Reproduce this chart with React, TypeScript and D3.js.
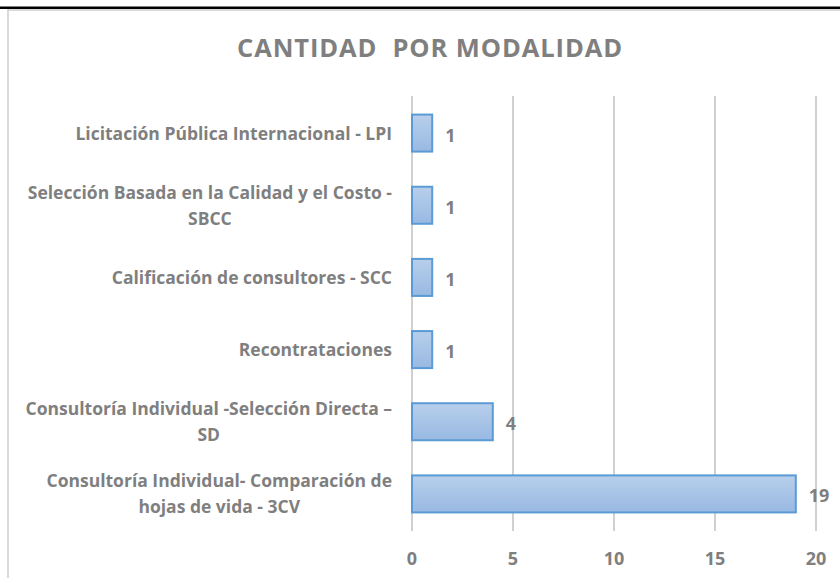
import React, { useEffect, useRef } from "react";
import * as d3 from "d3";

const title = "CANTIDAD\u00A0\u00A0POR MODALIDAD";
const categories = [
  "Licitación Pública Internacional - LPI",
  "Selección Basada en la Calidad y el Costo -\nSBCC",
  "Calificación de consultores - SCC",
  "Recontrataciones",
  "Consultoría Individual -Selección Directa –\nSD",
  "Consultoría Individual- Comparación de\nhojas de vida - 3CV",
];
const values = [1, 1, 1, 1, 4, 19];
const xTicks = [0, 5, 10, 15, 20];

const W = 840;
const H = 578;
const FONT = "'Open Sans', Lato, sans-serif";
const GRAY = "#7f7f7f";

export default function App() {
  const ref = useRef<SVGSVGElement>(null);

  useEffect(() => {
    const svg = d3.select(ref.current);
    svg.selectAll("*").remove();

    const x = d3.scaleLinear().domain([0, 20]).range([412, 816]);
    const y = d3
      .scaleBand<string>()
      .domain(categories)
      .range([97, 530])
      .paddingInner(0.487)
      .paddingOuter(0.2435);

    const defs = svg.append("defs");
    const grad = defs
      .append("linearGradient")
      .attr("id", "barGrad")
      .attr("x1", 0)
      .attr("y1", 0)
      .attr("x2", 0)
      .attr("y2", 1);
    grad.append("stop").attr("offset", "0%").attr("stop-color", "#b8cfeb");
    grad.append("stop").attr("offset", "100%").attr("stop-color", "#98b9e3");

    // frame
    svg.append("rect").attr("x", 0).attr("y", 6.5).attr("width", W).attr("height", 2.5).attr("fill", "#000");
    svg.append("rect").attr("x", 7).attr("y", 9).attr("width", W - 7).attr("height", 2).attr("fill", "#d9d9d9");
    svg.append("rect").attr("x", 7).attr("y", 9).attr("width", 2).attr("height", H - 9).attr("fill", "#d9d9d9");

    // title
    const titleEl = svg
      .append("text")
      .attr("x", 430)
      .attr("y", 56.5)
      .attr("text-anchor", "middle")
      .attr("font-family", FONT)
      .attr("font-weight", 700)
      .attr("font-size", 25.5)
      .attr("fill", GRAY)
      .text(title);
    const tw = (titleEl.node() as SVGTextElement).getComputedTextLength();
    const targetW = 386;
    if (tw < targetW) {
      titleEl.attr("letter-spacing", (targetW - tw) / title.length);
    }

    // gridlines
    svg
      .append("g")
      .selectAll("line")
      .data(xTicks)
      .join("line")
      .attr("x1", (d) => x(d))
      .attr("x2", (d) => x(d))
      .attr("y1", 96)
      .attr("y2", 531)
      .attr("stroke", "#d0d0d0")
      .attr("stroke-width", 2);

    // tick labels
    svg
      .append("g")
      .selectAll("text")
      .data(xTicks)
      .join("text")
      .attr("x", (d) => x(d))
      .attr("y", 565)
      .attr("text-anchor", "middle")
      .attr("font-family", FONT)
      .attr("font-weight", 700)
      .attr("font-size", 18)
      .attr("fill", GRAY)
      .text((d) => String(d));

    // bars
    svg
      .append("g")
      .selectAll("rect")
      .data(categories)
      .join("rect")
      .attr("x", x(0))
      .attr("y", (d) => y(d)!)
      .attr("width", (d, i) => x(values[i]) - x(0))
      .attr("height", y.bandwidth())
      .attr("fill", "url(#barGrad)")
      .attr("stroke", "#5b9bd5")
      .attr("stroke-width", 2);

    // value labels
    svg
      .append("g")
      .selectAll("text")
      .data(categories)
      .join("text")
      .attr("x", (d, i) => x(values[i]) + 13)
      .attr("y", (d) => y(d)! + y.bandwidth() / 2 + 8.5)
      .attr("font-family", FONT)
      .attr("font-weight", 700)
      .attr("font-size", 18)
      .attr("fill", GRAY)
      .text((d, i) => String(values[i]));

    // category labels
    const lineH = 26;
    const labelRight = 392;
    const lg = svg.append("g");
    categories.forEach((c) => {
      const lines = c.split("\n");
      const cy = y(c)! + y.bandwidth() / 2;
      const texts = lines.map((ln, k) =>
        lg
          .append("text")
          .attr("y", cy + 6.5 + (k - (lines.length - 1) / 2) * lineH)
          .attr("font-family", FONT)
          .attr("font-weight", 700)
          .attr("font-size", 17.5)
          .attr("fill", GRAY)
          .attr("text-anchor", "middle")
          .text(ln)
      );
      const widths = texts.map((t) => (t.node() as SVGTextElement).getComputedTextLength());
      const maxW = Math.max(...widths);
      const center = labelRight - maxW / 2;
      texts.forEach((t) => t.attr("x", center));
    });
  }, []);

  return (
    <svg
      ref={ref}
      width={W}
      height={H}
      style={{ position: "absolute", left: 0, top: 0, display: "block", background: "#fff" }}
    />
  );
}
